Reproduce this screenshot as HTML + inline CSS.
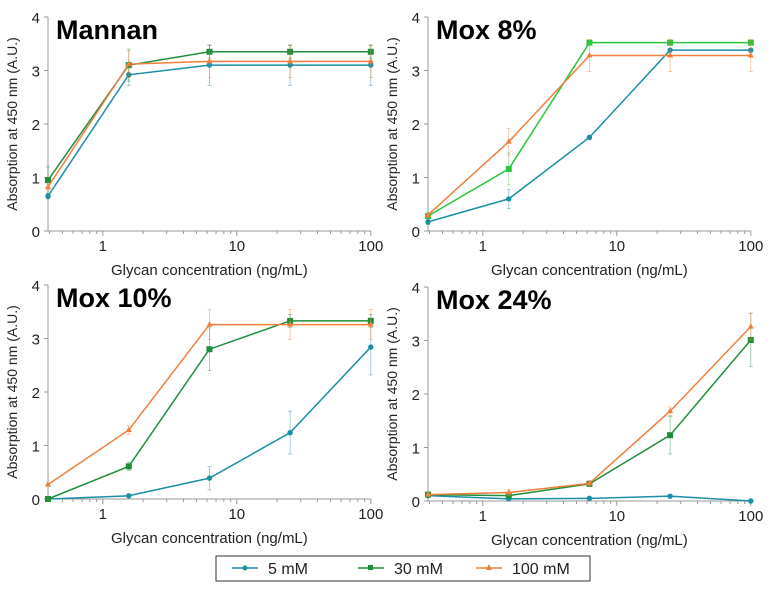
<!DOCTYPE html>
<html><head><meta charset="utf-8"><style>
body{margin:0;background:#fff;}
svg{display:block;font-family:"Liberation Sans",Arial,sans-serif;}
</style></head><body>
<svg id="c" width="777" height="589" viewBox="0 0 777 589">
<g>
<rect x="216" y="556" width="374" height="25" fill="#fff" stroke="#333" stroke-width="1"/>
<line x1="232" y1="568" x2="258" y2="568" stroke="#1a8fa6" stroke-width="1.5"/><circle cx="245" cy="568" r="2.5" fill="#1a8fa6"/>
<text x="268" y="574" font-size="16" fill="#222">5 mM</text>
<line x1="358" y1="568" x2="384" y2="568" stroke="#1f8f3a" stroke-width="1.5"/><rect x="368" y="565" width="5" height="5" fill="#1f8f3a"/>
<text x="394" y="574" font-size="16" fill="#222">30 mM</text>
<line x1="476" y1="568" x2="502" y2="568" stroke="#f07f3c" stroke-width="1.5"/><polygon points="489,564 492,570 486,570" fill="#f07f3c"/>
<text x="512" y="574" font-size="16" fill="#222">100 mM</text>
</g>
</svg>
<script>
const concs = [0.39, 1.5625, 6.25, 25, 100];
const yTicks = [0, 1, 2, 3, 4];
const xTickLabels = ["1", "10", "100"];
const titles = ["Mannan", "Mox 8%", "Mox 10%", "Mox 24%"];
const s5 = [[0.65,2.92,3.1,3.1,3.1],[0.17,0.6,1.75,3.38,3.38],[0,0.06,0.39,1.24,2.84],[0.1,0.04,0.05,0.09,0]];
const s30 = [[0.95,3.1,3.35,3.35,3.35],[0.28,1.16,3.52,3.52,3.52],[0,0.61,2.8,3.33,3.33],[0.12,0.1,0.32,1.23,3.01]];
const s100 = [[0.82,3.12,3.17,3.17,3.17],[0.3,1.67,3.28,3.28,3.28],[0.27,1.29,3.26,3.26,3.26],[0.12,0.16,0.33,1.68,3.26]];
const e5 = [[0.05,0.2,0.38,0.38,0.38],[0.05,0.18,0.03,0.03,0.03],[0.02,0.02,0.22,0.4,0.52],[0.02,0.02,0.02,0.02,0]];
const e30 = [[0.25,0.3,0.12,0.12,0.12],[0.05,0.3,0.03,0.03,0.03],[0.02,0.08,0.4,0.12,0.12],[0.03,0.05,0.05,0.35,0.5]];
const e100 = [[0.05,0.25,0.3,0.3,0.3],[0.05,0.25,0.3,0.3,0.3],[0.03,0.08,0.28,0.28,0.28],[0.03,0.06,0.05,0.08,0.25]];
const NS='http://www.w3.org/2000/svg';
const svg=document.getElementById('c');
function mk(tag,attrs,parent){const e=document.createElementNS(NS,tag);for(const k in attrs)e.setAttribute(k,attrs[k]);(parent||svg).appendChild(e);return e;}
const panels=[{x0:48,y0:231,y4:17},{x0:428,y0:231,y4:17},{x0:48,y0:499,y4:285},{x0:428,y0:501,y4:287}];
const DEC=134;
const colors=['#1a8fa6','#1f8f3a','#f07f3c'];
panels.forEach((p,i)=>{
  const g=mk('g',{});
  
  
  const lx0=Math.log10(concs[0]);
  const X=v=>p.x0+(Math.log10(v)-lx0)*DEC;
  const Y=v=>p.y0-(p.y0-p.y4)*v/4;
  const xr=X(100);
  mk('line',{x1:p.x0,y1:p.y0,x2:xr,y2:p.y0,stroke:'#999','stroke-width':1},g);
  mk('line',{x1:p.x0,y1:p.y0,x2:p.x0,y2:p.y4,stroke:'#999','stroke-width':1},g);
  yTicks.forEach(t=>{
    mk('line',{x1:p.x0-4,y1:Y(t),x2:p.x0,y2:Y(t),stroke:'#999'},g);
    const tx=mk('text',{x:p.x0-8,y:Y(t)+6,'font-size':15,'text-anchor':'end',fill:'#222'},g);tx.textContent=t;
  });
  for(let d=-1;d<=1;d++)for(let m=1;m<=9;m++){const v=m*Math.pow(10,d);if(v<concs[0]||v>100)continue;
    mk('line',{x1:X(v),y1:p.y0,x2:X(v),y2:p.y0+(m==1?5:3),stroke:'#999'},g);}
  mk('line',{x1:xr,y1:p.y0,x2:xr,y2:p.y0+5,stroke:'#999'},g);
  xTickLabels.forEach(l=>{const tx=mk('text',{x:X(+l),y:p.y0+20,'font-size':15,'text-anchor':'middle',fill:'#222'},g);tx.textContent=l;});
  const xt=mk('text',{x:(p.x0+xr)/2,y:p.y0+44,'font-size':15,'text-anchor':'middle',fill:'#222'},g);xt.textContent='Glycan concentration (ng/mL)';
  
  
  const cy=(p.y0+p.y4)/2, cx=p.x0-31;
  const yt=mk('text',{x:cx,y:cy,'font-size':14,'text-anchor':'middle',fill:'#222',transform:`rotate(-90 ${cx} ${cy})`},g);yt.textContent='Absorption at 450 nm (A.U.)';
  
  
  const tt=mk('text',{x:p.x0+8,y:p.y4+22,'font-size':27,'font-weight':'bold',fill:'#000'},g);tt.textContent=titles[i];
  
  
  const series=[[s5[i],e5[i]],[s30[i],e30[i]],[s100[i],e100[i]]];
  const col=i==1?['#1a8fa6','#2bc43c','#f07f3c']:colors;
  series.forEach(([vals,errs],si)=>{
    const c=col[si];
    vals.forEach((v,k)=>{const x=X(concs[k]);
      mk('line',{x1:x,y1:Y(v-errs[k]),x2:x,y2:Y(v+errs[k]),stroke:c,'stroke-width':0.8,opacity:0.5},g);
      mk('line',{x1:x-2,y1:Y(v-errs[k]),x2:x+2,y2:Y(v-errs[k]),stroke:c,'stroke-width':0.8,opacity:0.5},g);
      mk('line',{x1:x-2,y1:Y(v+errs[k]),x2:x+2,y2:Y(v+errs[k]),stroke:c,'stroke-width':0.8,opacity:0.5},g);
    });
    const pl=mk('polyline',{points:vals.map((v,k)=>X(concs[k])+','+Y(v)).join(' '),fill:'none',stroke:c,'stroke-width':1.5},g);
    
    
    vals.forEach((v,k)=>{const x=X(concs[k]),y=Y(v);let m;
      if(si==0)m=mk('circle',{cx:x,cy:y,r:2.7,fill:c},g);
      else if(si==1)m=mk('rect',{x:x-3,y:y-3,width:6,height:6,fill:c},g);
      else m=mk('polygon',{points:`${x},${y-3.5} ${x+3},${y+2} ${x-3},${y+2}`,fill:c},g);
      
      
    });
  });
});
</script>
</body></html>
